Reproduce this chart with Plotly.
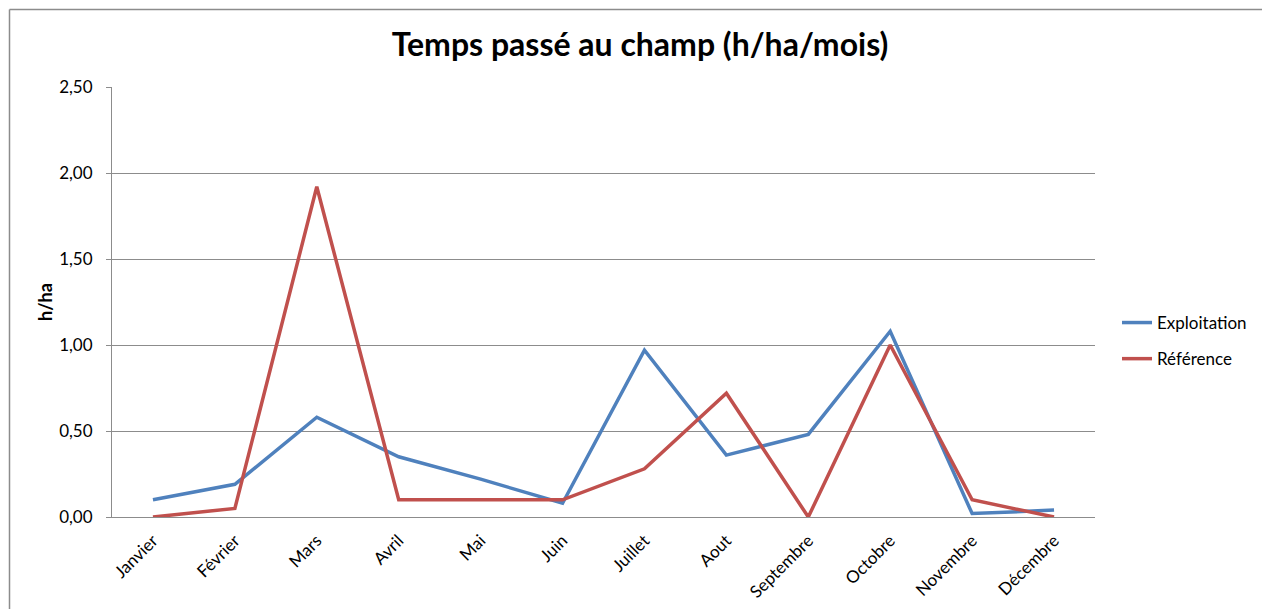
import plotly.graph_objects as go

# Monthly field time, hours per hectare
mois = ["Janvier", "Février", "Mars", "Avril", "Mai", "Juin", "Juillet",
        "Aout", "Septembre", "Octobre", "Novembre", "Décembre"]
exploitation = [0.10, 0.19, 0.58, 0.35, 0.22, 0.08, 0.97, 0.36, 0.48, 1.08, 0.02, 0.04]
reference = [0.00, 0.05, 1.92, 0.10, 0.10, 0.10, 0.28, 0.72, 0.00, 1.00, 0.10, 0.00]
y_ticks = [0.0, 0.5, 1.0, 1.5, 2.0, 2.5]

W, H = 1262, 609
L, R, T, B = 112, 1095, 87, 517  # plot area in pixels
pw, ph = R - L, B - T


def px_x(x):
    return (x - L) / pw


def px_y(y):
    return (B - y) / ph


FONT = "Lato"
GRID = "#8c8c8c"

fig = go.Figure()
fig.add_trace(go.Scatter(x=mois, y=exploitation, mode="lines", name="Exploitation",
                         line=dict(color="#4F81BD", width=3.5), legendgroup="a"))
fig.add_trace(go.Scatter(x=mois, y=reference, mode="lines", name="Référence",
                         line=dict(color="#C0504D", width=3.5), legendgroup="b"))

fig.update_layout(
    width=W, height=H,
    margin=dict(l=L, r=W - R, t=T, b=H - B, autoexpand=False),
    paper_bgcolor="white", plot_bgcolor="white",
    separators=", ",
    font=dict(family=FONT, size=17, color="#000000"),
    title=dict(text="<b>Temps passé au champ (h/ha/mois)</b>",
               font=dict(family=FONT, size=32, color="#000000"),
               x=640 / W, xanchor="center",
               y=1 - 45 / H, yanchor="middle"),
    showlegend=True,
    legend=dict(x=px_x(1117), xanchor="left", y=px_y(341), yanchor="middle",
                font=dict(family=FONT, size=17), tracegroupgap=11,
                bgcolor="rgba(0,0,0,0)", traceorder="grouped"),
    xaxis=dict(
        type="category", tickangle=-45, showgrid=False,
        showline=True, linecolor=GRID, linewidth=1,
        ticks="", ticklabelstandoff=6,
        tickfont=dict(family=FONT, size=17),
        range=[-0.5, len(mois) - 0.5], fixedrange=True,
    ),
    yaxis=dict(
        range=[0, 2.5], tickvals=y_ticks, tickformat=".2f",
        showgrid=True, gridcolor=GRID, gridwidth=1,
        showline=True, linecolor=GRID, linewidth=1,
        ticks="outside", ticklen=5, tickcolor=GRID,
        ticklabelstandoff=10, zeroline=False,
        tickfont=dict(family=FONT, size=17),
    ),
    annotations=[dict(text="<b>h/ha</b>", textangle=-90, showarrow=False,
                      xref="paper", yref="paper", x=px_x(45), y=px_y(302),
                      xanchor="center", yanchor="middle",
                      font=dict(family=FONT, size=18, color="#000000"))],
    shapes=[
        # chart frame: left and top edges
        dict(type="line", xref="paper", yref="paper", x0=px_x(9.5), x1=px_x(9.5),
             y0=px_y(9.5), y1=px_y(612), line=dict(color="#8c8c8c", width=1.5)),
        dict(type="line", xref="paper", yref="paper", x0=px_x(9.5), x1=px_x(1265),
             y0=px_y(9.5), y1=px_y(9.5), line=dict(color="#8c8c8c", width=1.5)),
    ],
)

fig.write_html("out.html")
